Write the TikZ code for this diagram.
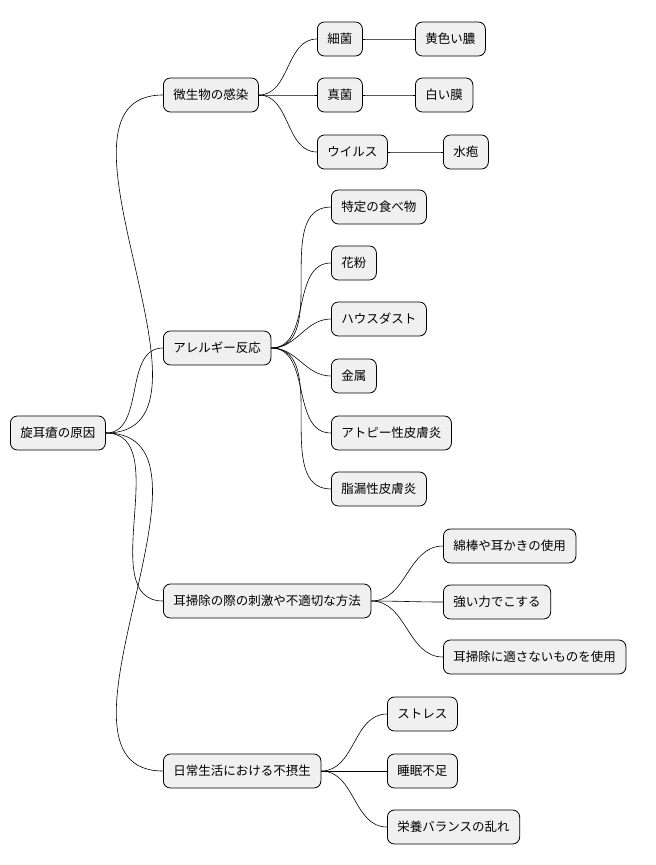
\documentclass[tikz,border=0pt]{standalone}
\usepackage{fontspec}
\setmainfont{Noto Sans CJK JP}
\begin{document}
\begin{tikzpicture}[x=1pt,y=-1pt,
 n/.style={draw=black,fill=black!6,rounded corners=7pt,line width=0.8pt,anchor=west,minimum height=34pt,inner xsep=10pt,font=\fontsize{12.5}{14}\selectfont},
 c/.style={line width=0.6pt}]
\useasboundingbox (0,0) rectangle (656,865);
\node[n] (r) at (10,433) {旋耳瘡の原因};
\node[n] (a) at (163,95) {微生物の感染};
\node[n] (b) at (163,348) {アレルギー反応};
\node[n] (c) at (163,601) {耳掃除の際の刺激や不適切な方法};
\node[n] (d) at (163,771) {日常生活における不摂生};
\node[n] (a1) at (317,39) {細菌};
\node[n] (a2) at (317,95) {真菌};
\node[n] (a3) at (317,152) {ウイルス};
\node[n] (a11) at (415,39) {黄色い膿};
\node[n] (a21) at (415,95) {白い膜};
\node[n] (a31) at (443,152) {水疱};
\node[n] (b1) at (331,207) {特定の食べ物};
\node[n] (b2) at (331,263) {花粉};
\node[n] (b3) at (331,319) {ハウスダスト};
\node[n] (b4) at (331,376) {金属};
\node[n] (b5) at (331,433) {アトピー性皮膚炎};
\node[n] (b6) at (331,489) {脂漏性皮膚炎};
\node[n] (c1) at (443,546) {綿棒や耳かきの使用};
\node[n] (c2) at (443,602) {強い力でこする};
\node[n] (c3) at (443,657) {耳掃除に適さないものを使用};
\node[n] (d1) at (387,714) {ストレス};
\node[n] (d2) at (387,771) {睡眠不足};
\node[n] (d3) at (387,827) {栄養バランスの乱れ};
\foreach \p/\q in {r/a,r/b,r/c,r/d,a/a1,a/a2,a/a3,a1/a11,a2/a21,a3/a31,b/b1,b/b2,b/b3,b/b4,b/b5,b/b6,c/c1,c/c2,c/c3,d/d1,d/d2,d/d3}
  \draw[c] (\p.east) to[out=0,in=180] (\q.west);
\end{tikzpicture}
\end{document}
